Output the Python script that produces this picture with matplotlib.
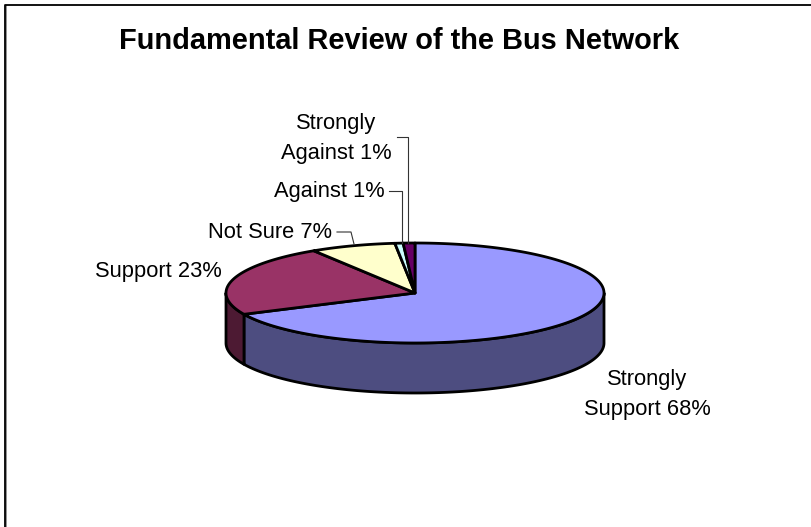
import numpy as np
import matplotlib
matplotlib.use('Agg')
import matplotlib.pyplot as plt
from matplotlib.patches import Polygon

title = 'Fundamental Review of the Bus Network'
categories = ['Strongly\nSupport 68%', 'Support 23%', 'Not Sure 7%', 'Against 1%', 'Strongly\nAgainst 1%']
# slice sizes as they look in the picture, the 1% ones are not quite equal
values = [68, 23, 7.3, 0.7, 1.0]
top_colors = ['#9999ff', '#993366', '#ffffcc', '#ccffff', '#660066']
side_colors = ['#4d4d80', '#4d1a33', '#808066', '#668080', '#330033']

plt.rcParams['font.family'] = ['Liberation Sans', 'DejaVu Sans']

fig = plt.figure(figsize=(8.12, 5.27), dpi=100)
ax = fig.add_axes([0, 0, 1, 1])
# axes in image pixels
ax.set_xlim(0, 812)
ax.set_ylim(527, 0)
ax.axis('off')

cx, cy = 415, 293
rx, ry = 189, 50
depth = 50


def rim(a0, a1):
    t = np.radians(np.linspace(a0, a1, 200))
    return cx + rx * np.sin(t), cy - ry * np.cos(t)


# frame, only top and left are visible
ax.plot([6.5, 6.5], [5, 527], color='#888888', lw=1.3, solid_capstyle='butt')
ax.plot([5.5, 5.5, 812], [527, 4.5, 4.5], color='black', lw=1.3, solid_capstyle='butt')

angles = np.cumsum([0] + values) / sum(values) * 360

# wall first, only the front half of the ellipse has one
for i in range(len(values)):
    a0 = max(angles[i], 90)
    a1 = min(angles[i + 1], 270)
    if a1 <= a0:
        continue
    x, y = rim(a0, a1)
    pts = np.r_[np.c_[x, y], np.c_[x[::-1], y[::-1] + depth]]
    ax.add_patch(Polygon(pts, closed=True, facecolor=side_colors[i], edgecolor='black', lw=2, joinstyle='round'))

# top
for i in range(len(values)):
    x, y = rim(angles[i], angles[i + 1])
    pts = np.r_[[[cx, cy]], np.c_[x, y]]
    ax.add_patch(Polygon(pts, closed=True, facecolor=top_colors[i], edgecolor='black', lw=2, joinstyle='round'))

ax.text(399, 41, title, fontsize=20.9, fontweight='bold', ha='center', va='center')

fs = 15.75
ax.text(647, 394.5, categories[0], fontsize=fs, ha='center', va='center', linespacing=1.6)
ax.text(158, 272, categories[1], fontsize=fs, ha='center', va='center')
ax.text(270, 232, categories[2], fontsize=fs, ha='center', va='center')
ax.text(329, 192, categories[3], fontsize=fs, ha='center', va='center')
ax.text(336, 138.5, categories[4], fontsize=fs, ha='center', va='center', linespacing=1.6)

# leader lines
line = dict(color='#333333', lw=0.8)
ax.plot([337, 351, 354], [232, 232, 244], **line)
ax.plot([389, 402, 402], [191, 191, 243], **line)
ax.plot([397, 408, 408], [137, 137, 243], **line)

fig.savefig('out.png', dpi=100)
